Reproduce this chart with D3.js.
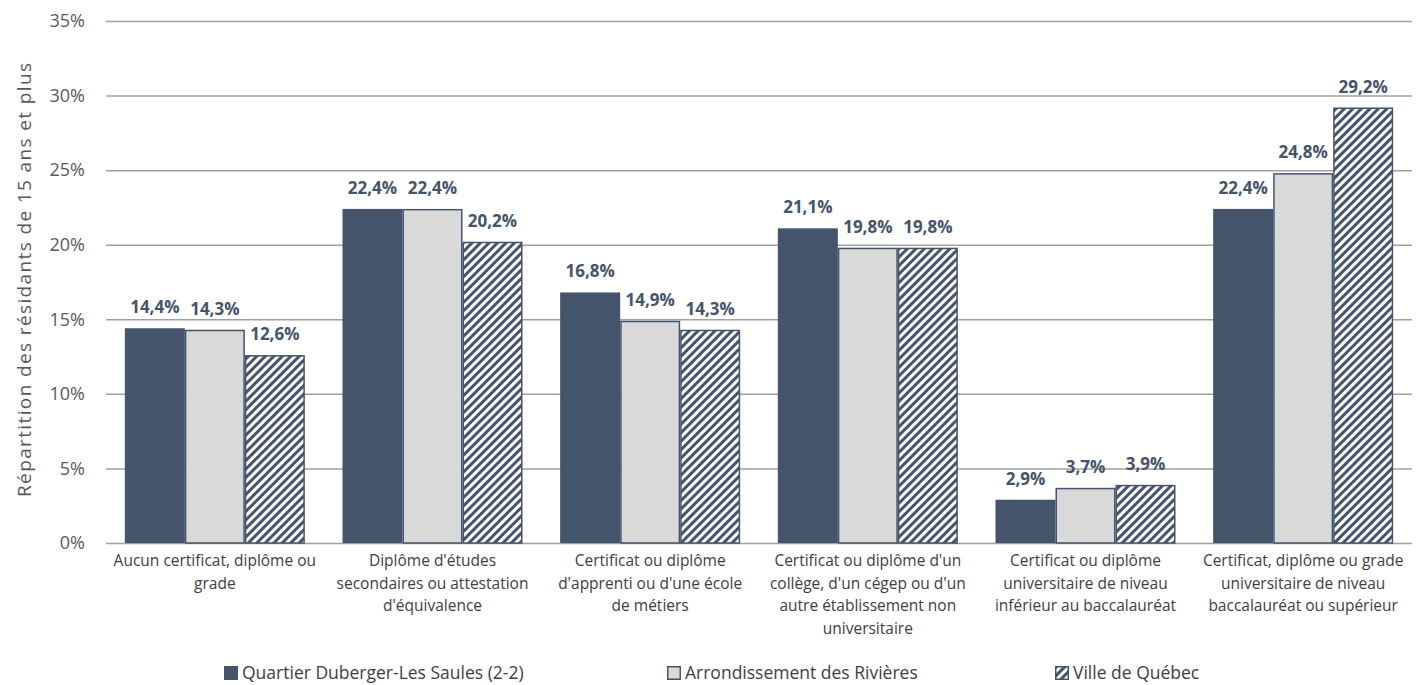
<!DOCTYPE html>
<html><head><meta charset="utf-8">
<script src="https://cdn.jsdelivr.net/npm/d3@7"></script>
<style>body{margin:0;background:#fff;}svg{display:block;font-family:"Open Sans",sans-serif;}</style>
</head><body><svg id="c" width="1427" height="685"></svg>
<script>
const categories = [
  ["Aucun certificat, diplôme ou", "grade"],
  ["Diplôme d'études", "secondaires ou attestation", "d'équivalence"],
  ["Certificat ou diplôme", "d'apprenti ou d'une école", "de métiers"],
  ["Certificat ou diplôme d'un", "collège, d'un cégep ou d'un", "autre établissement non", "universitaire"],
  ["Certificat ou diplôme", "universitaire de niveau", "inférieur au baccalauréat"],
  ["Certificat, diplôme ou grade", "universitaire de niveau", "baccalauréat ou supérieur"]
];
const seriesNames = ["Quartier Duberger-Les Saules (2-2)", "Arrondissement des Rivières", "Ville de Québec"];
const quartier = [14.4, 22.4, 16.8, 21.1, 2.9, 22.4];
const arrondissement = [14.3, 22.4, 14.9, 19.8, 3.7, 24.8];
const ville = [12.6, 20.2, 14.3, 19.8, 3.9, 29.2];
const yTicks = [0, 5, 10, 15, 20, 25, 30, 35];
const yTitle = "Répartition des résidants de 15 ans et plus";

const series = [quartier, arrondissement, ville];
const dark = "#44546a";
const svg = d3.select("#c");
const defs = svg.append("defs");
const pat = defs.append("pattern").attr("id","hatch").attr("patternUnits","userSpaceOnUse")
  .attr("width",6).attr("height",6).attr("patternTransform","rotate(45)");
pat.append("rect").attr("width",6).attr("height",6).attr("fill","#fff");
pat.append("line").attr("x1",1.5).attr("y1",0).attr("x2",1.5).attr("y2",6).attr("stroke",dark).attr("stroke-width",3);

const pLeft = 106, pRight = 1412, pTop = 21, pBottom = 543;
const y = d3.scaleLinear().domain([0,35]).range([pBottom, pTop]);
const x0 = d3.scaleBand().domain(d3.range(categories.length)).range([pLeft,pRight]).paddingInner(0.173).paddingOuter(0.0865);
const x1 = d3.scaleBand().domain(d3.range(3)).range([0, x0.bandwidth()]);

// grid
const grid = svg.append("g").attr("transform",`translate(${pLeft},0)`)
  .call(d3.axisLeft(y).tickValues(yTicks).tickSize(-(pRight-pLeft)).tickFormat(d=>d+"%"));
grid.select(".domain").remove();
grid.selectAll(".tick line").attr("stroke","#a0a0a0").attr("stroke-width",1.5);
grid.selectAll(".tick text").attr("x",-21).attr("fill","#595959").style("font-size","18px").style("font-family","Open Sans");

const fills = [dark, "#d9d9d9", "url(#hatch)"];
const strokes = ["none", dark, dark];
const g = svg.append("g");
categories.forEach((c,i)=>{
  series.forEach((s,j)=>{
    const xx = x0(i)+x1(j);
    const w = x1.bandwidth();
    g.append("rect").attr("x",xx+(j?0.75:0)).attr("y",y(s[i])+(j?0.75:0))
      .attr("width",w-(j?1.5:0)).attr("height",y(0)-y(s[i])-(j?0.75:0))
      .attr("fill",fills[j]).attr("stroke",strokes[j]).attr("stroke-width",j?1.5:0);
    g.append("text").attr("x",xx+w/2).attr("y",y(s[i])-15).attr("text-anchor","middle")
      .attr("fill",dark).style("font-size","17px").style("font-weight","bold")
      .text(s[i].toFixed(1).replace(".",",")+"%");
  });
  const t = svg.append("text").attr("text-anchor","middle").attr("fill","#404040").style("font-size","15.5px");
  c.forEach((line,k)=>{
    t.append("tspan").attr("x",x0(i)+x0.bandwidth()/2).attr("y",566+k*22.7).text(line);
  });
});

// y title
svg.append("text").attr("transform",`translate(31,280) rotate(-90)`).attr("text-anchor","middle")
  .attr("fill","#595959").style("font-size","19px").attr("textLength",434).attr("lengthAdjust","spacing").text(yTitle);

// legend
const legX = [224, 667, 1055];
seriesNames.forEach((n,j)=>{
  const lg = svg.append("g").attr("transform",`translate(${legX[j]},666)`);
  lg.append("rect").attr("x",j?0.75:0).attr("y",j?0.75:0).attr("width",j?12.5:14).attr("height",j?12.5:14)
    .attr("fill",fills[j]).attr("stroke",strokes[j]).attr("stroke-width",j?1.5:0);
  lg.append("text").attr("x",18).attr("y",13).attr("fill","#404040").style("font-size","17.5px").text(n);
});
</script></body></html>
